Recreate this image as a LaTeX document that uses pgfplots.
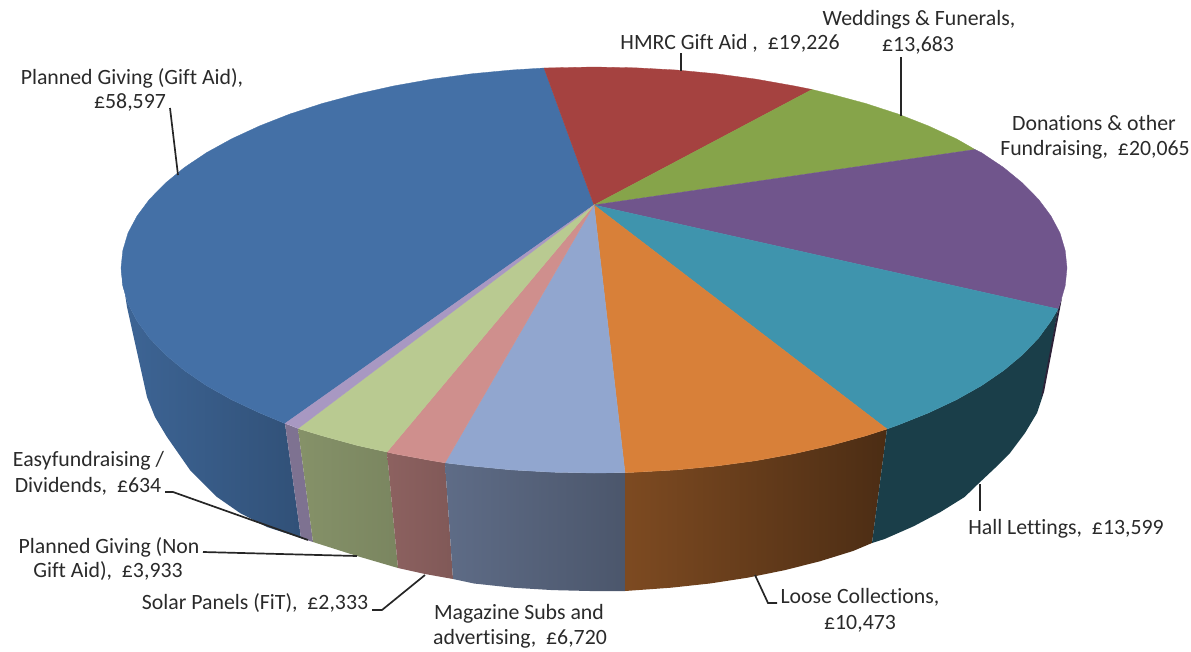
\documentclass[border=0pt]{standalone}
\usepackage{pgfplots}
\pgfplotsset{compat=1.18}
\usepackage{fontspec}
\setmainfont[Ligatures=NoCommon]{Carlito}
\definecolor{cblue}{HTML}{4470A6}
\definecolor{cred}{HTML}{A54240}
\definecolor{cgreen}{HTML}{86A44A}
\definecolor{cpurple}{HTML}{70558C}
\definecolor{cteal}{HTML}{3F94AD}
\definecolor{corange}{HTML}{D88039}
\definecolor{cperi}{HTML}{91A6CF}
\definecolor{cpink}{HTML}{CF8F8D}
\definecolor{clg}{HTML}{B9CA91}
\definecolor{clilac}{HTML}{A898C2}
\definecolor{txt}{HTML}{2A2A2A}
\tikzset{lab/.style={font=\fontsize{21.8}{24}\selectfont,text=txt,inner sep=0pt,anchor=center},
  lead/.style={draw=black!85,line width=1.7pt}}
\begin{document}
\begin{tikzpicture}
\begin{axis}[scale only axis,width=1191pt,height=651pt,xmin=0,xmax=1191,ymin=0,ymax=651,y dir=reverse,hide axis,clip=false]
\path (rel axis cs:0,0) rectangle (rel axis cs:1,1);
% sides
\addplot[no marks,draw=none,left color=cblue!90!black,right color=cblue!72!black] coordinates {(121,268)(122.8,285.8)(128,303.7)(137.1,321.1)(149.5,338.1)(165.5,354.7)(184.4,370.5)(206.6,385.7)(231.7,399.8)(259.6,412.9)(285,423.5)(301,538)(267,527)(240,513)(217,497)(190,470)(167,437)(155,417)(147,397)(127,307)} -- cycle;
\addplot[no marks,fill=clilac!75!black,draw=none] coordinates {(285,423.5)(298,428.5)(313,542)(301,538)} -- cycle;
\addplot[no marks,draw=none,left color=clg!72!black,right color=clg!66!black] coordinates {(298,428.5)(322.5,435.9)(357.5,445.5)(387,452)(398,568)(357,556)(313,542)} -- cycle;
\addplot[no marks,draw=none,left color=cpink!68!black,right color=cpink!62!black] coordinates {(387,452)(393.9,453.7)(432.2,460.7)(445,462.8)(453,579)(425,574)(398,568)} -- cycle;
\addplot[no marks,draw=none,left color=cperi!65!black,right color=cperi!52!black] coordinates {(445,462.8)(471.5,466)(511.7,469.9)(552.8,472.2)(594,473)(625,472.6)(625,591)(590,591)(552.4,590.1)(513,587.7)(474,583.5)(453,579)} -- cycle;
\addplot[no marks,draw=none,left color=corange!58!black,right color=corange!35!black] coordinates {(625,472.6)(635.2,472.2)(676.3,469.9)(716.5,466)(755.8,460.7)(794.1,453.7)(830.5,445.5)(865.5,435.9)(887,429)(872,543)(853,551)(819.5,561.4)(784.5,570.2)(747.6,577.7)(709.8,583.5)(671,587.7)(625,591)} -- cycle;
\addplot[no marks,fill=cteal!42!black,draw=none] coordinates {(887,429)(898.1,425)(928.4,412.9)(956.3,399.8)(981.4,385.7)(1003.6,370.5)(1022.5,354.7)(1038.5,338.1)(1050.9,321.1)(1058,309)(1043,395)(1037,413)(1025,433)(1010,453)(995,468)(978,484)(964.6,497)(940.5,512)(913.7,526.2)(884.6,539)(872,543)} -- cycle;
\addplot[no marks,fill=cpurple!40!black,draw=none] coordinates {(1062,298)(1058,309)(1041,398)(1044,392)} -- cycle;
% top
\addplot[no marks,fill=cblue,draw=cblue,line width=.3pt] coordinates {(594,205)(285,423.5)(259.6,412.9)(231.7,399.8)(206.6,385.7)(184.4,370.5)(165.5,354.7)(149.5,338.1)(137.1,321.1)(128,303.7)(122.8,285.8)(121,268)(122.8,250.5)(128,233)(137.1,215.9)(149.5,199.3)(165.5,183)(184.4,167.5)(206.6,152.6)(231.7,138.8)(259.6,125.9)(289.9,114)(322.5,103.4)(357.5,94)(393.9,85.9)(432.2,79.1)(471.5,73.8)(511.7,70)(544,68)} -- cycle;
\addplot[no marks,fill=cred,draw=cred,line width=.3pt] coordinates {(594,205)(544,68)(552.8,67.8)(594,67)(635.2,67.8)(676.3,70)(716.5,73.8)(755.8,79.1)(794.1,85.9)(812,89.5)} -- cycle;
\addplot[no marks,fill=cgreen,draw=cgreen,line width=.3pt] coordinates {(594,205)(812,89.5)(830.5,94)(865.5,103.4)(898.1,114)(928.4,125.9)(956.3,138.8)(975,149.5)} -- cycle;
\addplot[no marks,fill=cpurple,draw=cpurple,line width=.3pt] coordinates {(594,205)(975,149.5)(981.4,152.6)(1003.6,167.5)(1022.5,183)(1038.5,199.3)(1050.9,215.9)(1060,233)(1065.2,250.5)(1067,268)(1065.2,285.8)(1060,303.7)(1058,309)} -- cycle;
\addplot[no marks,fill=cteal,draw=cteal,line width=.3pt] coordinates {(594,205)(1058,309)(1050.9,321.1)(1038.5,338.1)(1022.5,354.7)(1003.6,370.5)(981.4,385.7)(956.3,399.8)(928.4,412.9)(898.1,425)(887,429)} -- cycle;
\addplot[no marks,fill=corange,draw=corange,line width=.3pt] coordinates {(594,205)(887,429)(865.5,435.9)(830.5,445.5)(794.1,453.7)(755.8,460.7)(716.5,466)(676.3,469.9)(635.2,472.2)(625,472.6)} -- cycle;
\addplot[no marks,fill=cperi,draw=cperi,line width=.3pt] coordinates {(594,205)(625,472.6)(594,473)(552.8,472.2)(511.7,469.9)(471.5,466)(445,462.8)} -- cycle;
\addplot[no marks,fill=cpink,draw=cpink,line width=.3pt] coordinates {(594,205)(445,462.8)(432.2,460.7)(393.9,453.7)(387,452)} -- cycle;
\addplot[no marks,fill=clg,draw=clg,line width=.3pt] coordinates {(594,205)(387,452)(357.5,445.5)(322.5,435.9)(298,428.5)} -- cycle;
\addplot[no marks,fill=clilac,draw=clilac,line width=.3pt] coordinates {(594,205)(298,428.5)(289.9,425)(285,423.5)} -- cycle;
% leaders
\addplot[no marks,lead] coordinates {(170,108)(178,175)};
\addplot[no marks,lead] coordinates {(681,53)(681,71)};
\addplot[no marks,lead] coordinates {(901,57)(901,116)};
\addplot[no marks,lead] coordinates {(980,484)(980,511)};
\addplot[no marks,lead] coordinates {(755,575)(768,603)(777,603)};
\addplot[no marks,lead] coordinates {(372,610)(382,610)(425,575)};
\addplot[no marks,lead] coordinates {(203,552)(357,556)};
\addplot[no marks,lead] coordinates {(165,492)(173,492)(308,540)};
% labels
\node[lab] at (axis cs:132,78.5) {Planned Giving (Gift Aid),};
\node[lab] at (axis cs:130,102.5) {£58,597};
\node[lab] at (axis cs:730,43.5) {HMRC Gift Aid ,\ \ £19,226};
\node[lab] at (axis cs:919,19.5) {Weddings \& Funerals,};
\node[lab] at (axis cs:918,45.5) {£13,683};
\node[lab] at (axis cs:1094,123.5) {Donations \& other};
\node[lab] at (axis cs:1095,149.5) {Fundraising,\ \ £20,065};
\node[lab] at (axis cs:1066,528.5) {Hall Lettings,\ \ £13,599};
\node[lab] at (axis cs:860,597.5) {Loose Collections,};
\node[lab] at (axis cs:860,623.5) {£10,473};
\node[lab] at (axis cs:519,613.5) {Magazine Subs and};
\node[lab] at (axis cs:520,638.5) {advertising,\ \ £6,720};
\node[lab] at (axis cs:255,603.5) {Solar Panels (FiT),\ \ £2,333};
\node[lab] at (axis cs:109,547.5) {Planned Giving (Non};
\node[lab] at (axis cs:108,571.5) {Gift Aid),\ \ £3,933};
\node[lab] at (axis cs:88.5,460.5) {Easyfundraising /};
\node[lab] at (axis cs:88,486.5) {Dividends,\ \ £634};
\end{axis}
\end{tikzpicture}
\end{document}
